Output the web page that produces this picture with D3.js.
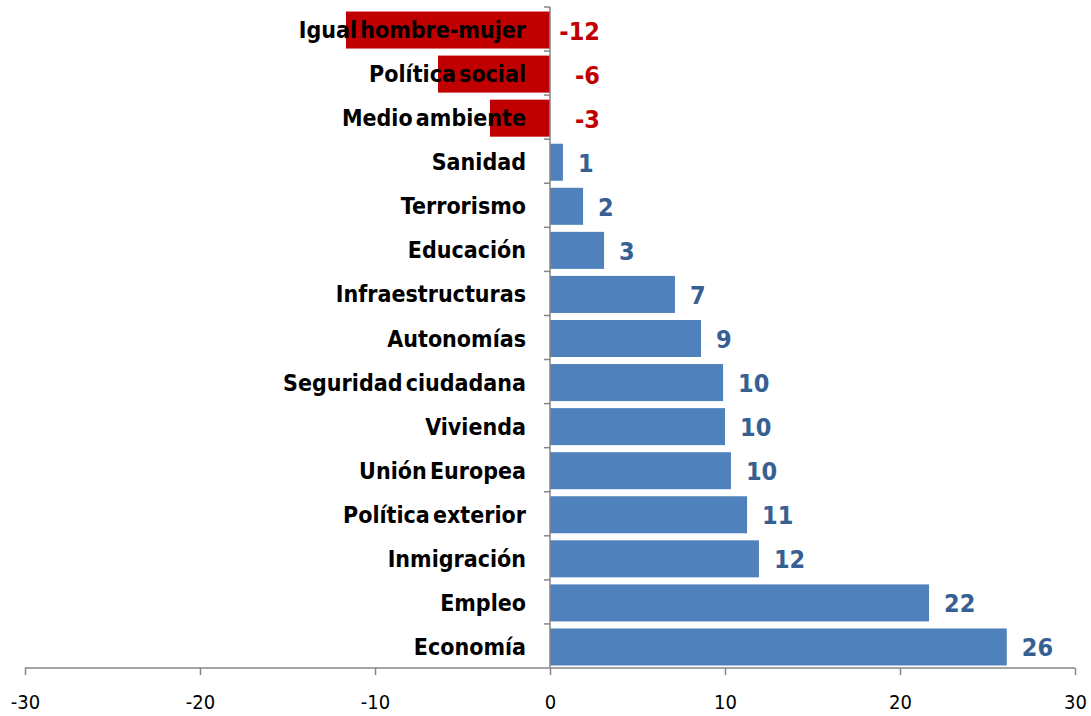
<!DOCTYPE html>
<html><head><meta charset="utf-8">
<script src="https://cdn.jsdelivr.net/npm/d3@7"></script>
<style>
body{margin:0;background:#fff;}
svg{display:block;}
text{font-family:"DejaVu Sans Condensed","Liberation Sans Narrow","Open Sans",sans-serif;}
</style></head><body>
<svg id="chart" width="1091" height="716"></svg>
<script>
const categories = ["Igual hombre-mujer","Política social","Medio ambiente","Sanidad","Terrorismo","Educación","Infraestructuras","Autonomías","Seguridad ciudadana","Vivienda","Unión Europea","Política exterior","Inmigración","Empleo","Economía"];
const values = [-11.66,-6.4,-3.43,0.74,1.89,3.09,7.14,8.63,9.89,10.0,10.34,11.26,11.94,21.66,26.1];
const valueLabels = ["-12","-6","-3","1","2","3","7","9","10","10","10","11","12","22","26"];
const xTicks = [-30,-20,-10,0,10,20,30];

const svg = d3.select("#chart");
const x = d3.scaleLinear().domain([-30,30]).range([25,1075]);
const y = d3.scaleBand().domain(categories).range([7,668]).paddingInner(0.16).paddingOuter(0.08);
const blue = "#4F81BD", red = "#C00000", axisCol = "#868686";

// bars
svg.append("g").selectAll("rect").data(values).join("rect")
  .attr("x", d => x(Math.min(0,d)))
  .attr("width", d => Math.abs(x(d)-x(0)))
  .attr("y", (d,i) => y(categories[i])+1)
  .attr("height", y.bandwidth())
  .attr("fill", d => d < 0 ? red : blue);

// y axis line and ticks (between categories)
const yAxisG = svg.append("g");
yAxisG.append("line").attr("x1",x(0)).attr("x2",x(0)).attr("y1",7).attr("y2",668)
  .attr("stroke",axisCol).attr("stroke-width",1.5);
const step = (668-7)/categories.length;
yAxisG.selectAll("line.t").data(d3.range(categories.length)).join("line").attr("class","t")
  .attr("x1",x(0)-6).attr("x2",x(0))
  .attr("y1",i=>7+i*step).attr("y2",i=>7+i*step)
  .attr("stroke",axisCol).attr("stroke-width",1.5);

// x axis
const xAxis = d3.axisBottom(x).tickValues(xTicks).tickSize(7).tickPadding(20).tickFormat(d => String(d));
const xg = svg.append("g").attr("transform","translate(0,668)").call(xAxis);
xg.select(".domain").attr("stroke",axisCol).attr("stroke-width",1.5).attr("d","M25,0H1075");
xg.selectAll(".tick line").attr("stroke",axisCol).attr("stroke-width",1.5);
xg.selectAll(".tick text").attr("fill","#000").style("font-size","20px")
  .style("font-family",'"DejaVu Sans Condensed","Liberation Sans Narrow",sans-serif');

// category labels
svg.append("g").selectAll("text").data(categories).join("text")
  .attr("x", 526)
  .attr("y", d => y(d)+y.bandwidth()/2+1)
  .attr("dy","0.35em")
  .attr("text-anchor","end")
  .style("font-size","23px").style("font-weight","bold")
  .style("word-spacing","-4px")
  .attr("fill","#000")
  .text(d=>d);

// value labels
svg.append("g").selectAll("text").data(values).join("text")
  .attr("x", d => d < 0 ? x(0)+50 : x(d)+15)
  .attr("y", (d,i) => y(categories[i])+y.bandwidth()/2+1)
  .attr("dy","0.38em")
  .attr("text-anchor", d => d < 0 ? "end" : "start")
  .style("font-size","25px").style("font-weight","bold")
  .attr("fill", d => d < 0 ? red : "#376092")
  .text((d,i)=>valueLabels[i]);
</script>
</body></html>
